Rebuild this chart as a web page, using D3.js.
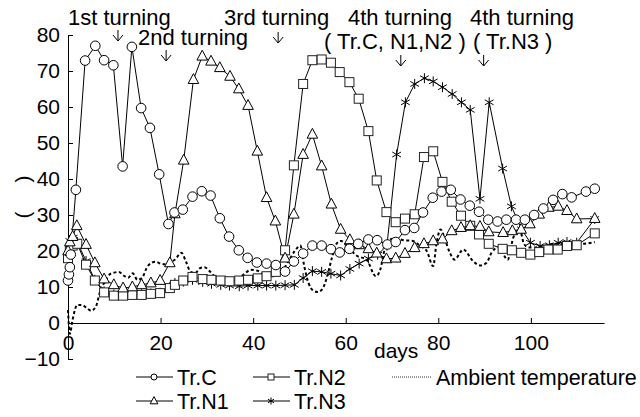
<!DOCTYPE html>
<html lang="en">
<head>
<meta charset="UTF-8">
<title>Temperature during composting</title>
<script src="https://d3js.org/d3.v7.min.js"></script>
<style>
  html, body { margin: 0; padding: 0; background: #fff; }
  svg { display: block; font-family: Arial, "Liberation Sans", sans-serif; }
  .axis text { font-size: 21px; fill: #000; font-family: Arial, "Liberation Sans", sans-serif; }
  .axis path, .axis line { stroke: #000; stroke-width: 1; }
</style>
</head>
<body>
<svg id="chart" width="640" height="417"></svg>
<script>
// ---- data ----
const xTicks = [0, 20, 40, 60, 80, 100];
const yTicks = [-10, 0, 10, 20, 30, 40, 50, 60, 70, 80];

const trCDays = [0, 0.2, 0.4, 0.6, 1.7, 3.7, 5.9, 7.8, 9.8, 11.8, 13.8, 15.8, 17.7, 19.7, 21.7, 23, 24.8, 26.9, 28.9, 30.8, 32.8, 34.8, 36.9, 38.8, 40.8, 42.9, 44.9, 46.9, 48.8, 50.8, 52.8, 54.8, 56.8, 58.7, 60.8, 62.7, 64.9, 66.8, 69, 70.8, 72.8, 74.8, 76.7, 78.8, 80.7, 82.7, 84.8, 86.8, 88.8, 90.8, 92.8, 94.7, 96.8, 98.7, 100.7, 102.7, 104.8, 106.8, 108.8, 111.9, 113.8];
const trCValues = [11.8, 13.5, 15.5, 19, 37, 72.9, 77, 73, 71.6, 43.5, 76.7, 59.7, 54.2, 41.3, 27.5, 30.7, 31.5, 35.1, 36.6, 35.4, 29.1, 24, 20.2, 18.1, 16.8, 16.5, 16.1, 14.3, 17.1, 19.3, 21.5, 21.5, 20.5, 19.6, 20.6, 22, 23.2, 23, 21.8, 22.5, 25.8, 26.4, 30.7, 34.8, 36.5, 37, 34.3, 32.6, 30.9, 28.7, 28.2, 28.7, 28.7, 28.7, 30, 31.8, 34.2, 35.8, 34.9, 36.5, 37.3];

const trN1Days = [0, 0.4, 1, 1.9, 3.9, 5.8, 7.8, 9.9, 11.9, 13.9, 15.9, 17.9, 19.9, 22, 23.1, 25, 27.1, 29, 30.9, 32.8, 35, 36.9, 38.9, 40.9, 42.9, 44.8, 46.9, 48.8, 50.8, 52.8, 54.8, 56.9, 58.9, 60.9, 62.9, 64.9, 66.7, 68.8, 70.8, 72.8, 74.9, 76.9, 78.9, 80.9, 82.9, 84.9, 86.9, 89, 90.9, 94, 96, 97.9, 99.8, 101.8, 103.9, 105.9, 107.8, 109.9, 113.8];
const trN1Values = [20, 22.5, 24, 27, 21.8, 16.7, 12.2, 10.6, 9.7, 10, 10.6, 11.1, 11.8, 16.7, 30.3, 45.2, 67.6, 74.1, 72.7, 70.9, 68.5, 65, 60.4, 47.7, 34.8, 28.3, 18, 30.2, 46.8, 52.4, 43.6, 33, 26, 23.1, 21.7, 20.6, 19.4, 17.8, 18, 19.3, 20.9, 22, 22.8, 23.3, 25.6, 26.5, 27, 26.8, 25.3, 25.1, 25.6, 26, 27.5, 30.2, 32.1, 32.4, 31.2, 28.9, 29];

const trN2Days = [0, 0.4, 1, 2, 3.9, 5.8, 7.8, 9.9, 11.9, 13.9, 15.9, 17.9, 19.9, 22, 23.1, 24.9, 26.9, 29.1, 31, 33, 34.9, 37, 38.9, 41, 42.9, 44.9, 46.9, 48.8, 50.8, 52.8, 54.8, 56.8, 58.7, 60.8, 62.8, 64.9, 66.7, 68.8, 70.8, 72.8, 74.9, 76.9, 78.9, 80.9, 82.9, 84.9, 86.9, 88.8, 90.9, 93.9, 95.9, 97.9, 99.9, 101.8, 103.8, 105.8, 107.8, 109.9, 113.8];
const trN2Values = [18, 20, 21.5, 22, 16.2, 11.8, 8.5, 7.6, 7.6, 7.8, 7.8, 8.1, 8.3, 9.7, 10.6, 11.8, 12.8, 12.2, 12, 11.8, 11.6, 11.8, 12, 12.4, 13, 14.2, 20.2, 43.8, 66.4, 73, 73.2, 72.3, 69.7, 66.9, 62.3, 53.3, 39.6, 30.8, 28, 29, 30.2, 46.1, 47.7, 39.2, 33.7, 29.8, 27, 24.6, 22, 20.6, 20.2, 19.5, 19, 19.7, 20.4, 20.4, 21.4, 21.6, 24.9];

const trN3Days = [0, 0.4, 1.1, 2, 3.9, 5.8, 7.8, 9.9, 11.9, 13.9, 15.9, 17.9, 19.9, 22, 23.1, 24.9, 26.9, 29.1, 31, 33, 34.9, 37, 38.9, 41, 42.9, 44.9, 46.9, 48.9, 50.8, 52.8, 54.8, 56.8, 58.9, 60.9, 62.9, 64.9, 66.9, 68.9, 71, 72.9, 74.9, 77, 78.9, 80.9, 83, 85, 86.9, 89, 91, 93.9, 95.8, 98, 99.9, 102, 104, 105.9, 107.8, 109.9, 113.8];
const trN3Values = [17.8, 22.8, 23.7, 22.5, 17.2, 12, 8.8, 7.9, 7.9, 8, 8, 8.2, 8.4, 10, 11.1, 11.5, 12, 11.4, 10.9, 10.6, 10.4, 10.2, 10.4, 10.4, 10.4, 10.4, 10.5, 10.6, 12.5, 14.4, 14.2, 13.7, 13.2, 15, 16.5, 17.9, 19, 21.5, 46.8, 61.3, 66.4, 68, 67.1, 65.5, 63.6, 61.3, 59.2, 34.5, 61.3, 42.9, 32.4, 26, 22.3, 21.4, 21.6, 22.3, 22.5, 22.3, 28.9];

const ambientDays = [0, 0.4, 1, 2, 3, 4, 5, 6, 7, 8, 9, 10, 11, 12, 13, 14, 15, 16, 17, 18, 19, 20, 21, 22, 23, 24.5, 25.5, 26.5, 27.5, 28.5, 29.5, 30.5, 32, 34, 36, 38, 39.5, 41, 42.5, 44, 46, 48, 49, 50.2, 51, 52, 53, 54, 55, 56, 57, 58, 59, 60.5, 62.5, 64.5, 66.5, 67.5, 68.5, 69.5, 71, 72.5, 74.5, 76, 77.5, 78.9, 79.6, 80.5, 81.5, 82.5, 83.5, 85.4, 87.5, 89, 90.4, 91.5, 93, 95, 96.2, 97.6, 98.5, 99.5, 101, 103, 105, 107, 109, 111, 113.8];
const ambientValues = [3.6, -3, 1, 5, 5, 4.2, 3.4, 4.5, 9, 11.5, 13.5, 14, 14.2, 13.2, 12.6, 13.8, 12, 12.5, 15.3, 16.7, 17, 16.5, 16.3, 17, 17.5, 19.5, 17, 14.2, 13.9, 15.2, 15.5, 14.5, 12.5, 11.5, 11.8, 13.5, 14.8, 14.5, 13.2, 13, 14, 18, 20, 21.5, 16, 11, 9, 8.6, 9.5, 13, 18, 22, 22.8, 21, 18.6, 17.6, 13, 15, 21, 23.2, 23.5, 23, 22.8, 21.5, 20, 15.8, 22, 26, 23, 19.5, 17.6, 20.4, 17.2, 16, 16.7, 19.5, 21, 17.6, 23.7, 26, 22, 21, 21, 21.5, 22, 22, 22, 22, 22.5];

const turningDays = [10.8, 21.2, 45.4, 71.9, 89.8];

// ---- chart ----
const svg = d3.select("#chart");
const x = d3.scaleLinear().domain([0, 115.8]).range([68, 604]);
const y = d3.scaleLinear().domain([-10, 80]).range([359, 35]);

// axes (ticks point inward)
svg.append("g").attr("class", "axis")
  .attr("transform", `translate(${x(0)},0)`)
  .call(d3.axisLeft(y).tickValues(yTicks).tickSize(-5).tickSizeOuter(0).tickPadding(8));

svg.append("g").attr("class", "axis")
  .attr("transform", `translate(0,${y(0)})`)
  .call(d3.axisBottom(x).tickValues(xTicks).tickSize(-5).tickSizeOuter(0).tickPadding(12));

svg.append("text").attr("x", 374).attr("y", 358)
  .attr("font-size", 21).text("days");

svg.append("text")
  .attr("transform", "translate(30,197) rotate(-90)")
  .attr("text-anchor", "middle").attr("font-size", 21)
  .attr("xml:space", "preserve").style("white-space", "pre")
  .text("(     )");

// ambient temperature (dashed, behind)
const ambient = d3.zip(ambientDays, ambientValues);
svg.append("path")
  .datum(ambient)
  .attr("fill", "none").attr("stroke", "#000")
  .attr("stroke-width", 2).attr("stroke-dasharray", "3,2.5")
  .attr("d", d3.line().x(d => x(d[0])).y(d => y(d[1])).curve(d3.curveMonotoneX));

function drawMarker(g, type, r) {
  if (type === "circle") {
    g.append("circle").attr("r", r).attr("fill", "#fff").attr("stroke", "#000");
  } else if (type === "square") {
    g.append("rect").attr("x", -r).attr("y", -r).attr("width", 2 * r).attr("height", 2 * r)
      .attr("fill", "#fff").attr("stroke", "#222");
  } else if (type === "triangle") {
    g.append("path").attr("d", `M0,${-r * 1.25}L${r * 1.1},${r * 0.8}L${-r * 1.1},${r * 0.8}Z`)
      .attr("fill", "#fff").attr("stroke", "#000");
  } else {
    const a = r * 0.87, b = r * 0.5;
    g.append("path").attr("d", `M0,${-r}V${r}M${-a},${-b}L${a},${b}M${-a},${b}L${a},${-b}`)
      .attr("fill", "none").attr("stroke", "#000");
  }
}

const series = [
  { name: "Tr.N3", type: "star", days: trN3Days, values: trN3Values },
  { name: "Tr.N2", type: "square", days: trN2Days, values: trN2Values },
  { name: "Tr.N1", type: "triangle", days: trN1Days, values: trN1Values },
  { name: "Tr.C", type: "circle", days: trCDays, values: trCValues }
];
const markerSize = { circle: 4.8, square: 4.5, triangle: 4.8, star: 5 };
const line = d3.line().x(d => x(d[0])).y(d => y(d[1]));

series.forEach(s => {
  const pts = d3.zip(s.days, s.values);
  svg.append("path").datum(pts)
    .attr("fill", "none").attr("stroke", "#000").attr("stroke-width", 1)
    .attr("d", line);
});
series.forEach(s => {
  const pts = d3.zip(s.days, s.values);
  svg.append("g").selectAll("g").data(pts).join("g")
    .attr("transform", d => `translate(${x(d[0])},${y(d[1])})`)
    .each(function () { drawMarker(d3.select(this), s.type, markerSize[s.type]); });
});

// turning annotations
const notes = [
  { t: "1st turning", x: 68, y: 25 },
  { t: "2nd turning", x: 138, y: 45 },
  { t: "3rd turning", x: 224, y: 25 },
  { t: "4th turning", x: 348, y: 25 },
  { t: "( Tr.C, N1,N2 )", x: 324, y: 49 },
  { t: "4th turning", x: 470, y: 25 },
  { t: "( Tr.N3 )", x: 473, y: 49 }
];
svg.append("g").selectAll("text").data(notes).join("text")
  .attr("x", d => d.x).attr("y", d => d.y).attr("font-size", 22)
  .attr("xml:space", "preserve").style("white-space", "pre")
  .text(d => d.t);

const arrowTop = [30, 50, 32, 55, 55];
svg.append("g").selectAll("path").data(turningDays).join("path")
  .attr("fill", "none").attr("stroke", "#000").attr("stroke-width", 1)
  .attr("d", (d, i) => {
    const ax = x(d), t = arrowTop[i], b = t + 11;
    return `M${ax},${t}V${b}M${ax - 5},${b - 6}L${ax},${b}L${ax + 5},${b - 6}`;
  });

// legend
const legend = [
  { name: "Tr.C", type: "circle", x: 136, y: 377 },
  { name: "Tr.N2", type: "square", x: 253, y: 377 },
  { name: "Tr.N1", type: "triangle", x: 136, y: 401 },
  { name: "Tr.N3", type: "star", x: 253, y: 401 }
];
const legendSize = { circle: 3, square: 3, triangle: 3.5, star: 3.5 };
legend.forEach(l => {
  const g = svg.append("g").attr("transform", `translate(${l.x},${l.y})`);
  g.append("line").attr("x1", 0).attr("x2", 37).attr("stroke", "#000");
  drawMarker(g.append("g").attr("transform", "translate(18,0)"), l.type, legendSize[l.type]);
  g.append("text").attr("x", 41).attr("y", 7.5).attr("font-size", 21.5).text(l.name);
});
const ag = svg.append("g").attr("transform", "translate(392,377)");
ag.append("line").attr("x1", 0).attr("x2", 40).attr("stroke", "#000")
  .attr("stroke-width", 0.8).attr("stroke-dasharray", "1,1");
ag.append("text").attr("x", 44).attr("y", 7.5).attr("font-size", 21.5).text("Ambient temperature");
</script>
</body>
</html>
